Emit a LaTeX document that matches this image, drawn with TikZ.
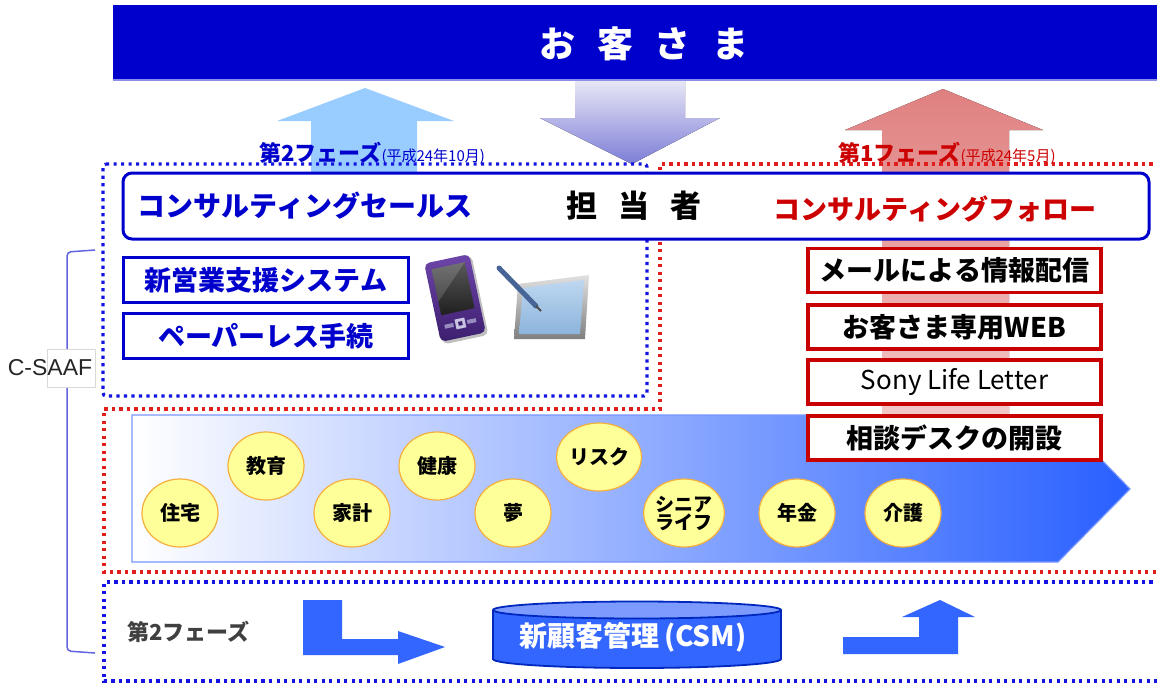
\documentclass[tikz,border=0pt]{standalone}
\usepackage{fontspec}
\usepackage{graphicx}
\usetikzlibrary{shapes.geometric}
\newfontfamily\jp{Noto Sans CJK JP}
\newfontfamily\arialf{Liberation Sans}
\newcommand\fsz[1]{\fontsize{#1}{#1}\selectfont}

\definecolor{navy}{RGB}{0,0,204}
\definecolor{bannerline}{RGB}{140,140,235}
\definecolor{dotblue}{RGB}{20,20,225}
\definecolor{dotred}{RGB}{225,30,30}
\definecolor{txtred}{RGB}{204,0,0}
\definecolor{boxred}{RGB}{200,0,0}
\definecolor{skyarrow}{RGB}{153,204,255}
\definecolor{pinktop}{RGB}{224,128,128}
\definecolor{pinkbot}{RGB}{242,200,200}
\definecolor{downtop}{RGB}{232,232,246}
\definecolor{downbot}{RGB}{125,125,215}
\definecolor{bubblefill}{RGB}{255,255,153}
\definecolor{bubbleline}{RGB}{245,175,60}
\definecolor{flowblue}{RGB}{51,102,255}
\definecolor{flowmid}{RGB}{190,200,255}
\definecolor{flowend}{RGB}{40,95,255}
\definecolor{flowedge}{RGB}{120,150,255}
\definecolor{cyltop}{RGB}{125,155,255}
\definecolor{cylline}{RGB}{0,40,190}
\definecolor{bracketblue}{RGB}{100,100,225}
\definecolor{phasegray}{RGB}{64,64,64}
\definecolor{pdatop}{RGB}{110,70,170}
\definecolor{pdabot}{RGB}{60,30,110}
\definecolor{pdakey}{RGB}{150,140,190}
\definecolor{pdakeyhi}{RGB}{200,195,225}
\definecolor{screentop}{RGB}{190,215,240}
\definecolor{screenbot}{RGB}{140,180,220}
\definecolor{stylus}{RGB}{70,100,150}

\tikzset{
  dotline/.style={line width=3.2pt, dash pattern=on 3.2pt off 4.3pt},
  bluebox/.style={draw=navy, line width=3pt, fill=white, minimum width=285pt,
    minimum height=45pt, inner sep=0pt, font=\jp\bfseries\fsz{27}, text=navy},
  redbox/.style={draw=boxred, line width=3.5pt, fill=white, minimum width=293pt,
    minimum height=44pt, inner sep=0pt, font=\jp\bfseries\fsz{27}, text=black},
  bubble/.style={ellipse, fill=bubblefill, draw=bubbleline, line width=1.2pt,
    minimum width=76pt, minimum height=68pt, inner sep=0pt,
    font=\jp\bfseries\fsz{20}, align=center},
}

\begin{document}
\begin{tikzpicture}[x=1pt,y=-1pt]
\useasboundingbox (0,0) rectangle (1157,683);
\fill[white] (0,0) rectangle (1157,683);

% phase arrows pointing up to the customer, and the arrow coming down
\fill[top color=pinktop, bottom color=pinkbot]
  (882,415) -- (882,130) -- (845,130) -- (943,89) -- (1043,130) -- (1009,130) -- (1009,415) -- cycle;
\fill[skyarrow]
  (311,172) -- (311,121) -- (277,121) -- (365,88) -- (454,121) -- (417,121) -- (417,172) -- cycle;
\fill[top color=downtop, bottom color=downbot]
  (575,80) -- (685,80) -- (685,118) -- (720,118) -- (632,164) -- (540,118) -- (575,118) -- cycle;

% customer banner
\fill[navy] (113,5) rectangle (1157,80);
\draw[bannerline, line width=1.5pt] (113,80) -- (1157,80);
\node (cust) [text=white, font=\jp\bfseries\fsz{36}] at (644,44)
  {お\hspace{22pt}客\hspace{22pt}さ\hspace{22pt}ま};

% phase areas
\draw[dotline, dotred] (1160,164) -- (660,164) -- (660,409) -- (104,409) -- (104,572) -- (1160,572);
\draw[dotline, dotblue, rounded corners=3pt] (103,164) -- (647,164) -- (647,396) -- (103,396) -- cycle;
\draw[dotline, dotblue] (1160,582) -- (104,582) -- (104,681) -- (1160,681);

% phase captions
\node (ph2) [anchor=base west, text=navy, inner sep=0pt] at (259,161)
  {\jp\fsz{22}\bfseries 第2フェーズ\fsz{15}\mdseries(平成24年10月)};
\node (ph1) [anchor=base west, text=txtred, inner sep=0pt] at (838,161)
  {\jp\fsz{22}\bfseries 第1フェーズ\fsz{15}\mdseries(平成24年5月)};

% staff bar
\draw[navy, line width=3pt, fill=white, rounded corners=9pt] (123,173) rectangle (1149,239);
\node (sales) [text=navy, font=\jp\bfseries\fsz{28}] at (305,206) {コンサルティングセールス};
\node (staff) [text=black, font=\jp\bfseries\fsz{31}] at (634,206)
  {担\hspace{21pt}当\hspace{21pt}者};
\node (follow) [text=txtred, font=\jp\bfseries\fsz{27}] at (935,209) {コンサルティングフォロー};

% life-event flow arrow
\draw[left color=white, middle color=flowmid, right color=flowend,
      draw=flowedge, line width=1.2pt]
  (132,415) -- (1058,415) -- (1130,489) -- (1058,562) -- (132,562) -- cycle;

\node[bubble] (b1) at (180,513) {住宅};
\node[bubble] (b2) at (266,466) {教育};
\node[bubble] (b3) at (352,513) {家計};
\node[bubble] (b4) at (437,466) {健康};
\node[bubble] (b5) at (513,513) {夢};
\node[bubble] (b6) at (599,457) {リスク};
\node[bubble, font=\jp\bfseries\fsz{19}] (b7) at (684,513) {シニア\\[-1pt]ライフ};
\node[bubble] (b8) at (797,513) {年金};
\node[bubble] (b9) at (903,513) {介護};

% first-phase services
\node[redbox] (r1) at (954.5,270.5) {メールによる情報配信};
\node[redbox] (r2) at (954.5,327) {お客さま専用WEB};
\node[redbox, font=\jp\fsz{26}] (r3) at (954.5,382) {Sony Life Letter};
\node[redbox] (r4) at (954.5,438) {相談デスクの開設};

% second-phase tools
\node[bluebox] (s1) at (266,280) {新営業支援システム};
\node[bluebox] (s2) at (266,336) {ペーパーレス手続};

% handheld terminal
\begin{scope}[shift={(455,298)}, rotate=12]
  \fill[black!25, rounded corners=5pt] (-21,-38) rectangle (25,43);
  \shade[top color=pdatop, bottom color=pdabot, rounded corners=5pt] (-23,-40) rectangle (23,40);
  \shade[top color=black!65, bottom color=black!88] (-17,-33) rectangle (17,14);
  \fill[white, opacity=0.15] (-17,-33) -- (17,-33) -- (-17,0) -- cycle;
  \fill[pdakey] (-16,24) rectangle (-7,28);
  \fill[pdakey] (7,24) rectangle (16,28);
  \fill[pdakeyhi] (-5,21) rectangle (5,31);
  \fill[pdabot] (-2,24) rectangle (2,28);
\end{scope}

% tablet with stylus
\shade[top color=black!12, bottom color=black!50]
  (518,284) -- (589,275) -- (585,339) -- (514,339) -- cycle;
\shade[top color=screentop, bottom color=screenbot]
  (523,288) -- (584,280) -- (580,334) -- (519,334) -- cycle;
\draw[line width=5pt, stylus, line cap=round] (499,268) -- (536,306);
\draw[line width=2pt, black!70] (536,306) -- (541,311);

% bracket for the whole framework
\draw[bracketblue, line width=1.5pt, rounded corners=4pt] (95,250) -- (67,252) -- (67,651) -- (95,653);
\fill[white] (47,349) rectangle (95,387);
\draw[black!15, line width=0.6pt] (47,349) rectangle (95,387);
\node (csaaf) [font=\arialf\fsz{23}, text=black!85] at (50,368) {C-SAAF};

% customer database, second phase
\node (ph2b) [anchor=west, text=phasegray, font=\jp\bfseries\fsz{22}] at (124,632) {第2フェーズ};
\fill[flowblue] (303,600) -- (342,600) -- (342,639) -- (398,639) -- (398,631) -- (445,647)
  -- (398,664) -- (398,655) -- (303,655) -- cycle;
\fill[flowblue] (493,610) rectangle (781,659);
\fill[flowblue] (637,659) ellipse[x radius=144, y radius=9];
\draw[cylline, line width=1.8pt] (493,610) -- (493,659) arc[start angle=180, end angle=0, x radius=144, y radius=9] -- (781,610);
\filldraw[fill=cyltop, draw=cylline, line width=1.8pt] (637,610) ellipse[x radius=144, y radius=8.5];
\node (csm) [text=white, font=\jp\bfseries\fsz{28}] at (633,637) {新顧客管理\,(CSM)};
\fill[flowblue] (843,637) -- (919,637) -- (919,617) -- (902,617) -- (940,600) -- (975,617)
  -- (958,617) -- (958,654) -- (843,654) -- cycle;
\end{tikzpicture}
\end{document}
